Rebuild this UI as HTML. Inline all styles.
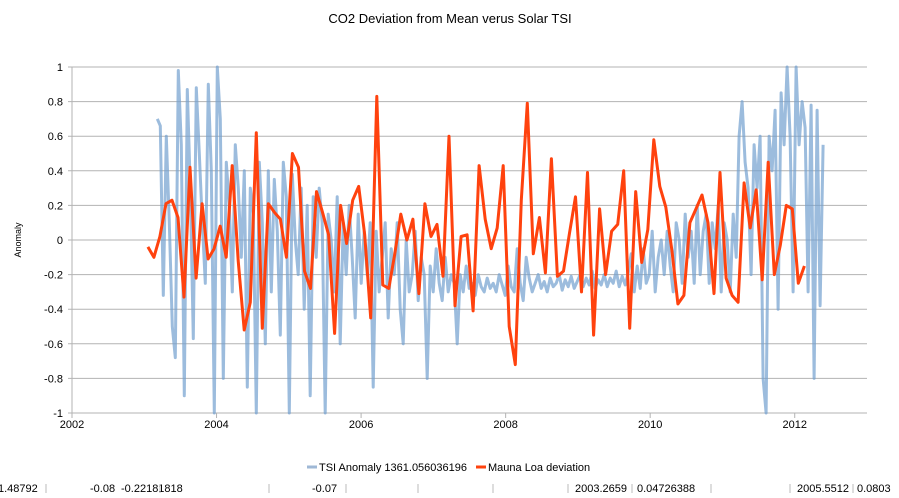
<!DOCTYPE html>
<html><head><meta charset="utf-8">
<style>
body{margin:0;background:#fff;width:899px;height:493px;overflow:hidden;font-family:"Liberation Sans",sans-serif;}
svg text{font-family:"Liberation Sans",sans-serif;}
</style></head>
<body>
<svg id="chart" width="899" height="493" viewBox="0 0 899 493" xmlns="http://www.w3.org/2000/svg">
<text x="450" y="23" text-anchor="middle" font-size="13" fill="#000">CO2 Deviation from Mean verus Solar TSI</text>
<text x="0" y="0" transform="translate(21,240) rotate(-90)" text-anchor="middle" font-size="9" fill="#000">Anomaly</text>
<g id="grid"></g>
<g id="yticks"></g>
<g id="xticks"></g>
<g id="series"></g>
<g>
 <line x1="307" y1="467" x2="317" y2="467" stroke="#9fb8d6" stroke-width="3"/>
 <text x="319" y="471" font-size="11" fill="#000">TSI Anomaly  1361.056036196</text>
 <line x1="476" y1="467" x2="486" y2="467" stroke="#ff420e" stroke-width="3"/>
 <text x="488" y="471" font-size="11" fill="#000">Mauna Loa deviation</text>
</g>
<g font-size="11" fill="#000">
 <text x="-2" y="492">1.48792</text><line x1="46" y1="484" x2="46" y2="493" stroke="#bbb"/>
 <text x="90" y="492">-0.08</text><text x="121" y="492">-0.22181818</text><line x1="160" y1="484" x2="160" y2="493" stroke="#bbb"/>
 <line x1="269" y1="484" x2="269" y2="493" stroke="#bbb"/>
 <text x="312" y="492">-0.07</text><line x1="346" y1="484" x2="346" y2="493" stroke="#bbb"/>
 <line x1="418" y1="484" x2="418" y2="493" stroke="#bbb"/>
 <line x1="493" y1="484" x2="493" y2="493" stroke="#bbb"/>
 <line x1="568" y1="484" x2="568" y2="493" stroke="#bbb"/>
 <text x="575" y="492">2003.2659</text><line x1="632" y1="484" x2="632" y2="493" stroke="#bbb"/>
 <text x="637" y="492">0.04726388</text><line x1="711" y1="484" x2="711" y2="493" stroke="#bbb"/>
 <line x1="790" y1="484" x2="790" y2="493" stroke="#bbb"/>
 <text x="797" y="492">2005.5512</text><line x1="853" y1="484" x2="853" y2="493" stroke="#bbb"/>
 <text x="857" y="492">0.0803</text>
</g>
</svg>
<script>
const yTicks=[1,0.8,0.6,0.4,0.2,0,-0.2,-0.4,-0.6,-0.8,-1];
const yTickLabels=["1","0.8","0.6","0.4","0.2","0","-0.2","-0.4","-0.6","-0.8","-1"];
const xTicks=[2002,2004,2006,2008,2010,2012];
const xTickLabels=["2002","2004","2006","2008","2010","2012"];
const mloStartYear=2003.05;
const mloStepYears=1/12;
const mloValues=[-0.04,-0.10,0.02,0.21,0.23,0.13,-0.33,0.42,-0.22,0.21,-0.11,-0.05,0.08,-0.10,0.43,-0.12,-0.52,-0.36,0.62,-0.51,0.21,0.16,0.12,-0.10,0.50,0.42,-0.18,-0.28,0.28,0.16,0.03,-0.54,0.20,-0.02,0.23,0.31,0.03,-0.45,0.83,-0.26,-0.28,-0.08,0.15,0.00,0.12,-0.31,0.21,0.02,0.09,-0.21,0.60,-0.38,0.02,0.03,-0.41,0.43,0.12,-0.05,0.07,0.43,-0.50,-0.72,0.23,0.79,-0.08,0.13,-0.19,0.47,-0.21,-0.18,0.04,0.25,-0.30,0.39,-0.55,0.18,-0.20,0.05,0.09,0.40,-0.51,0.28,-0.13,0.06,0.58,0.31,0.19,-0.06,-0.37,-0.32,0.10,0.18,0.26,0.10,-0.31,0.39,-0.22,-0.32,-0.36,0.33,0.07,0.29,-0.23,0.45,-0.20,-0.03,0.20,0.18,-0.25,-0.15];
const tsiStartYear=2003.18;
const tsiStepYears=0.0415;
const tsiValues=[0.70,0.66,-0.32,0.60,0.10,-0.50,-0.68,0.98,0.55,-0.90,
0.87,0.30,-0.57,0.88,0.50,0.10,-0.25,0.90,0.40,-1.0,
1.0,0.70,-0.80,0.45,0.20,-0.3,0.55,0.30,-0.1,0.40,
-0.85,0.30,0.15,-1.0,0.45,0.10,-0.60,0.40,-0.30,0.35,
0.05,-0.55,0.45,0.25,-1.0,0.38,0.00,-0.20,0.30,-0.40,
0.20,-0.90,0.25,-0.10,0.30,0.10,-1.0,0.15,0.00,-0.30,
0.25,-0.60,0.10,-0.20,0.20,-0.10,-0.45,0.15,-0.25,0.05,
-0.20,0.10,-0.85,0.05,-0.30,-0.10,0.10,-0.45,-0.05,-0.20,
0.10,-0.40,-0.60,0.00,-0.30,-0.20,0.05,-0.35,-0.10,-0.20,
-0.80,-0.15,-0.30,-0.05,-0.25,-0.35,-0.10,-0.30,-0.20,-0.25,
-0.60,-0.20,-0.30,-0.15,-0.28,-0.25,-0.32,-0.20,-0.27,-0.30,
-0.22,-0.28,-0.25,-0.30,-0.20,-0.26,-0.32,-0.15,-0.27,-0.30,
-0.05,-0.25,-0.35,-0.10,-0.22,-0.30,-0.25,-0.20,-0.28,-0.24,
-0.30,-0.22,-0.27,-0.25,-0.20,-0.29,-0.23,-0.27,-0.21,-0.28,
-0.24,-0.20,-0.27,-0.22,-0.26,-0.18,-0.28,-0.23,-0.26,-0.20,
-0.27,-0.22,-0.25,-0.18,-0.27,-0.21,-0.26,-0.19,-0.08,-0.30,
-0.15,-0.28,-0.05,-0.25,-0.20,0.05,-0.30,-0.10,0.00,-0.20,
0.05,-0.15,-0.30,0.10,0.00,-0.25,0.15,-0.10,0.05,-0.25,
0.20,-0.20,0.05,0.15,-0.25,0.10,-0.05,0.20,-0.30,0.10,
0.00,-0.30,0.15,-0.10,0.60,0.80,0.45,0.30,-0.20,0.55,
0.30,0.60,-0.80,-1.0,0.60,0.40,0.75,-0.40,0.85,0.55,
1.0,0.60,-0.30,1.0,0.55,0.80,0.65,-0.30,0.78,-0.80,
0.75,-0.38,0.55];

const L=72,R=867,T=67,B=413,X0=2002,X1=2013,Y0=-1,Y1=1;
const xs=v=>L+(v-X0)/(X1-X0)*(R-L);
const ys=v=>B-(v-Y0)/(Y1-Y0)*(B-T);
const NS="http://www.w3.org/2000/svg";
function mk(tag,attrs,parent){const e=document.createElementNS(NS,tag);for(const k in attrs)e.setAttribute(k,attrs[k]);parent.appendChild(e);return e;}
const grid=document.getElementById('grid'),yt=document.getElementById('yticks'),xt=document.getElementById('xticks'),ser=document.getElementById('series');
yTicks.forEach((v,i)=>{
  const g=mk('line',{x1:L-4,x2:R,y1:ys(v),y2:ys(v),stroke:'#b3b3b3','stroke-width':1},grid);
  
  
  const t=mk('text',{x:L-9,y:ys(v)+4,'text-anchor':'end','font-size':11,fill:'#000'},yt);
  t.textContent=yTickLabels[i];
  
  
});
mk('line',{x1:L,x2:L,y1:T,y2:B,stroke:'#b3b3b3'},grid);
xTicks.forEach((v,i)=>{
  const m=mk('line',{x1:xs(v),x2:xs(v),y1:B,y2:B+5,stroke:'#b3b3b3'},xt);
  
  
  const t=mk('text',{x:xs(v),y:B+15,'text-anchor':'middle','font-size':11,fill:'#000'},xt);
  t.textContent=xTickLabels[i];
  
  
});
function clampY(v){return Math.max(Y0,Math.min(Y1,v));}
const tsiPts=tsiValues.map((v,i)=>xs(tsiStartYear+i*tsiStepYears).toFixed(1)+','+ys(clampY(v)).toFixed(1)).join(' ');
const tsi=mk('polyline',{points:tsiPts,fill:'none',stroke:'#729fcf','stroke-opacity':0.7,'stroke-width':3,'stroke-linejoin':'round'},ser);


const mloPts=mloValues.map((v,i)=>xs(mloStartYear+i*mloStepYears).toFixed(1)+','+ys(clampY(v)).toFixed(1)).join(' ');
const mlo=mk('polyline',{points:mloPts,fill:'none',stroke:'#ff420e','stroke-width':3,'stroke-linejoin':'round'},ser);


</script>
</body></html>
